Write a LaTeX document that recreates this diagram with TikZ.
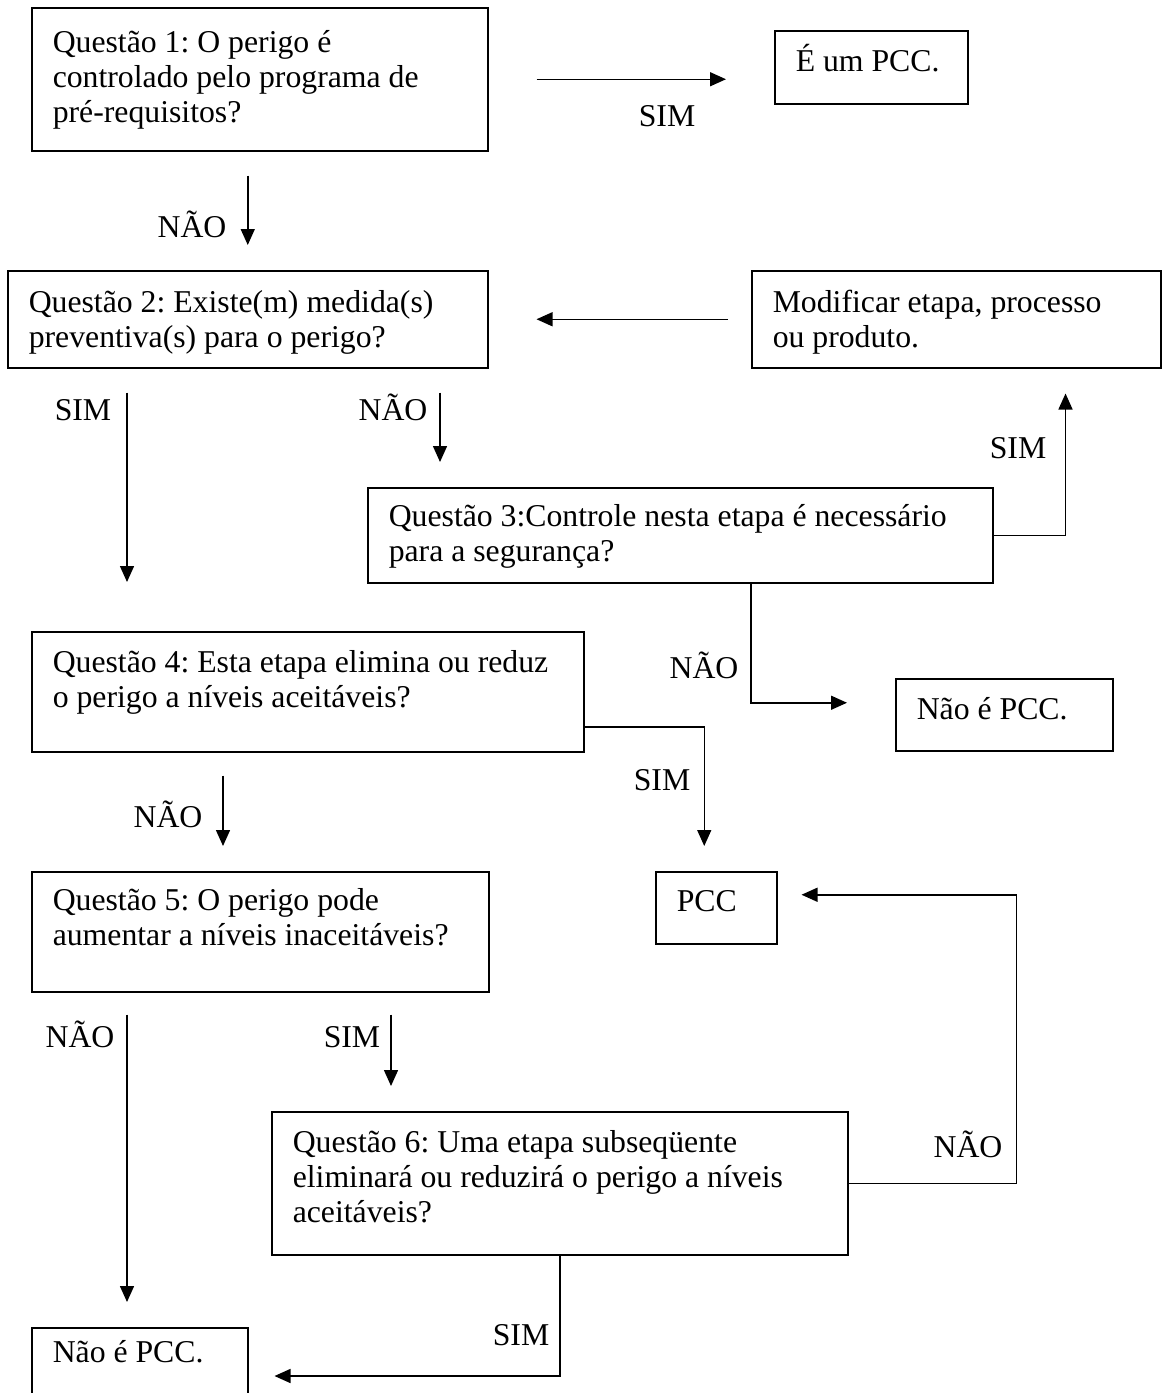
\documentclass[tikz,border=0pt]{standalone}
\usepackage{fontspec}
\setmainfont{Liberation Serif}
\usetikzlibrary{arrows.meta}
\tikzstyle{caixa}=[draw, anchor=north west, inner sep=0pt]
\tikzstyle{rotulo}=[anchor=base, inner sep=0pt]
\newcommand{\caixatexto}[4][16.4pt]{\parbox[c][#3][t]{#2}{\raggedright\leftskip=8.4pt\rule{0pt}{#1}#4}}

\begin{document}
\begin{tikzpicture}[x=0.4pt, y=-0.4pt, line width=0.6pt, >={Triangle[length=6.4pt,width=5.6pt]}, font=\fontsize{12.7}{14}\selectfont\frenchspacing]
                \useasboundingbox (0,0) rectangle (1162,1393);
                \node[caixa] (q1) at (31,7) {\caixatexto[18pt]{182.4pt}{57.2pt}{Questão 1: O perigo é\\controlado pelo programa de\\pré-requisitos?}};
                \node[caixa] (pcc1) at (774,30) {\caixatexto{77.2pt}{29.2pt}{É um PCC.}};
                \node[caixa] (q2) at (7,270) {\caixatexto[16.8pt]{192pt}{38.8pt}{Questão 2: Existe(m) medida(s)\\preventiva(s) para o perigo?}};
                \node[caixa] (mod) at (751,270) {\caixatexto[16.8pt]{163.6pt}{38.8pt}{Modificar etapa, processo\\ou produto.}};
                \node[caixa] (q3) at (367,487) {\caixatexto[15.6pt]{250pt}{38pt}{Questão 3:Controle nesta etapa é necessário\\para a segurança?}};
                \node[caixa] (nao1) at (895,678) {\caixatexto{86.8pt}{28.8pt}{Não é PCC.}};
                \node[caixa] (q4) at (31,631) {\caixatexto{220.8pt}{48pt}{Questão 4: Esta etapa elimina ou reduz\\o perigo a níveis aceitáveis?}};
                \node[caixa] (pcc) at (655,871) {\caixatexto[16pt]{48.4pt}{28.8pt}{PCC}};
                \node[caixa] (q5) at (31,871) {\caixatexto[15.6pt]{182.8pt}{48pt}{Questão 5: O perigo pode\\aumentar a níveis inaceitáveis?}};
                \node[caixa] (q6) at (271,1111) {\caixatexto{230.4pt}{57.2pt}{Questão 6: Uma etapa subseqüente\\eliminará ou reduzirá o perigo a níveis\\aceitáveis?}};
                \node[caixa] (nao2) at (31,1327) {\caixatexto[14pt]{86.4pt}{29.2pt}{Não é PCC.}};
                \node[rotulo] (s1) at (667,126) {SIM};
                \node[rotulo] (n1) at (192,237) {NÃO};
                \node[rotulo] (s2) at (83,420) {SIM};
                \node[rotulo] (n2) at (393,420) {NÃO};
                \node[rotulo] (s3) at (1018,458) {SIM};
                \node[rotulo] (n3) at (704,678) {NÃO};
                \node[rotulo] (s4) at (662,790) {SIM};
                \node[rotulo] (n4) at (168,827) {NÃO};
                \node[rotulo] (n5) at (80,1047) {NÃO};
                \node[rotulo] (s5) at (352,1047) {SIM};
                \node[rotulo] (n6) at (968,1157) {NÃO};
                \node[rotulo] (s6) at (521,1345) {SIM};
                \coordinate (a2) at ([xshift=48pt]q2.south west);
                \coordinate (b2) at ([xshift=173.2pt]q2.south west);
                \coordinate (a3) at ([xshift=-38.4pt]mod.south east);
                \coordinate (b3) at ([xshift=153.6pt]q3.south west);
                \coordinate (b4) at ([xshift=76.8pt]q4.south west);
                \coordinate (b5) at ([xshift=38.4pt]q5.south west);
                \coordinate (a5) at ([xshift=144pt]q5.south west);
                \coordinate (b6) at ([xshift=95.6pt,yshift=5.2pt]pcc.east);
                \draw[->, shorten <=19.2pt, shorten >=19.2pt] (q1.east) -- (q1.east -| pcc1.west);
                \draw[->, shorten <=9.6pt, shorten >=10pt] (q1.south -| q2.north) -- (q2.north);
                \draw[->, shorten <=9.2pt, shorten >=19.2pt] (mod.west) -- (q2.east);
                \draw[->, shorten <=9.6pt, shorten >=19.6pt] (a2) -- (a2 |- q4.north);
                \draw[->, shorten <=9.6pt, shorten >=10pt] (b2) -- (b2 |- q3.north);
                \draw[->, shorten >=10pt] (q3.east) -| (a3);
                \draw[->, shorten >=19.2pt] (b3) |- ([yshift=4.8pt]nao1.west);
                \draw[->, shorten >=10pt] ([yshift=-14pt]q4.east) -| ([xshift=-4.8pt]pcc.north);
                \draw[->, shorten <=9.2pt, shorten >=10pt] (b4) -- (b4 |- q5.north);
                \draw[->, shorten <=8.8pt, shorten >=10pt] (b5) -- (b5 |- nao2.north);
                \draw[->, shorten <=8.8pt, shorten >=10pt] (a5) -- (a5 |- q6.north);
                \draw[->, shorten >=9.6pt] (q6.east) -| (b6) -- (b6 -| pcc.east);
                \draw[->, shorten >=10.4pt] (q6.south) |- ([yshift=-19.6pt]nao2.north east);
            \end{tikzpicture}
\end{document}
